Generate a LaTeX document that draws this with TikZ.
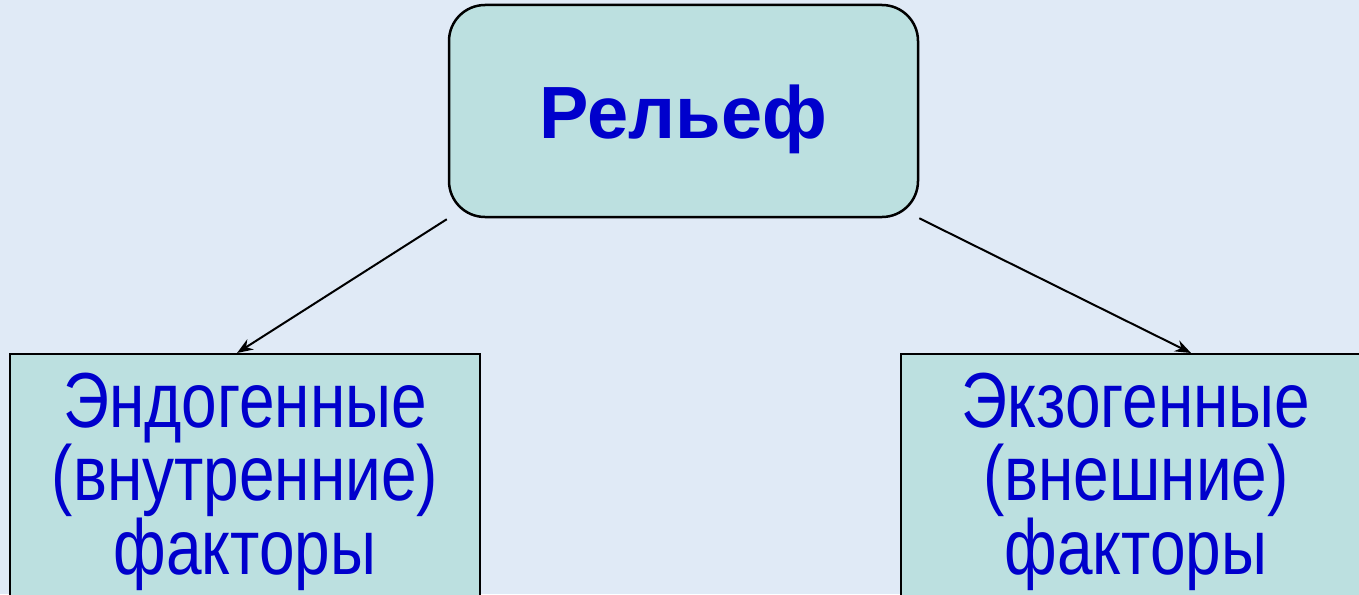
\documentclass[tikz,border=0pt]{standalone}
\usepackage{fontspec}
\setmainfont{Liberation Sans}
\newfontfamily\tallfont[FakeStretch=0.82]{Liberation Sans}
\usetikzlibrary{arrows.meta}
\definecolor{slidebg}{HTML}{E0EAF6}
\definecolor{boxfill}{HTML}{BCE0E0}
\definecolor{textblue}{HTML}{0000CC}
\begin{document}
\begin{tikzpicture} [
                x=1pt, y=-1pt,
                topbox/.style={
                    rectangle,
                    rounded corners=36pt,
                    draw,
                    line width=2.5pt,
                    fill=boxfill,
                    minimum width=469pt,
                    minimum height=212pt,
                    text height=54pt,
                    text depth=0pt,
                    text=textblue,
                    font=\bfseries\fontsize{74}{80}\selectfont
                },
                leafbox/.style={
                    rectangle,
                    draw,
                    line width=2pt,
                    fill=boxfill,
                    anchor=north,
                    minimum width=470pt,
                    inner ysep=30pt,
                    text height=190pt,
                    text depth=60pt,
                    text=textblue,
                    align=center,
                    font=\tallfont\fontsize{78}{72.5}\selectfont
                },
                link/.style={
                    line width=2pt,
                    -{Stealth[length=16pt,width=12pt]}
                }
            ]

                \clip (0,0) rectangle (1359,594);
                \fill[slidebg] (0,0) rectangle (1359,594);

                \node[topbox]   (rel)   at (683.5,111)  {Рельеф};

                \node[leafbox]  (endo)  at (245,353)    {Эндогенные\\(внутренние)\\факторы};
                \node[leafbox]  (exo)   at (1136,353)   {Экзогенные\\(внешние)\\факторы};

                \draw[link] ([xshift=-1pt,yshift=-1pt]rel.south west) -- ([xshift=-8pt]endo.north);
                \draw[link] (rel.south east) -- ([xshift=55pt]exo.north);

            \end{tikzpicture}
\end{document}
